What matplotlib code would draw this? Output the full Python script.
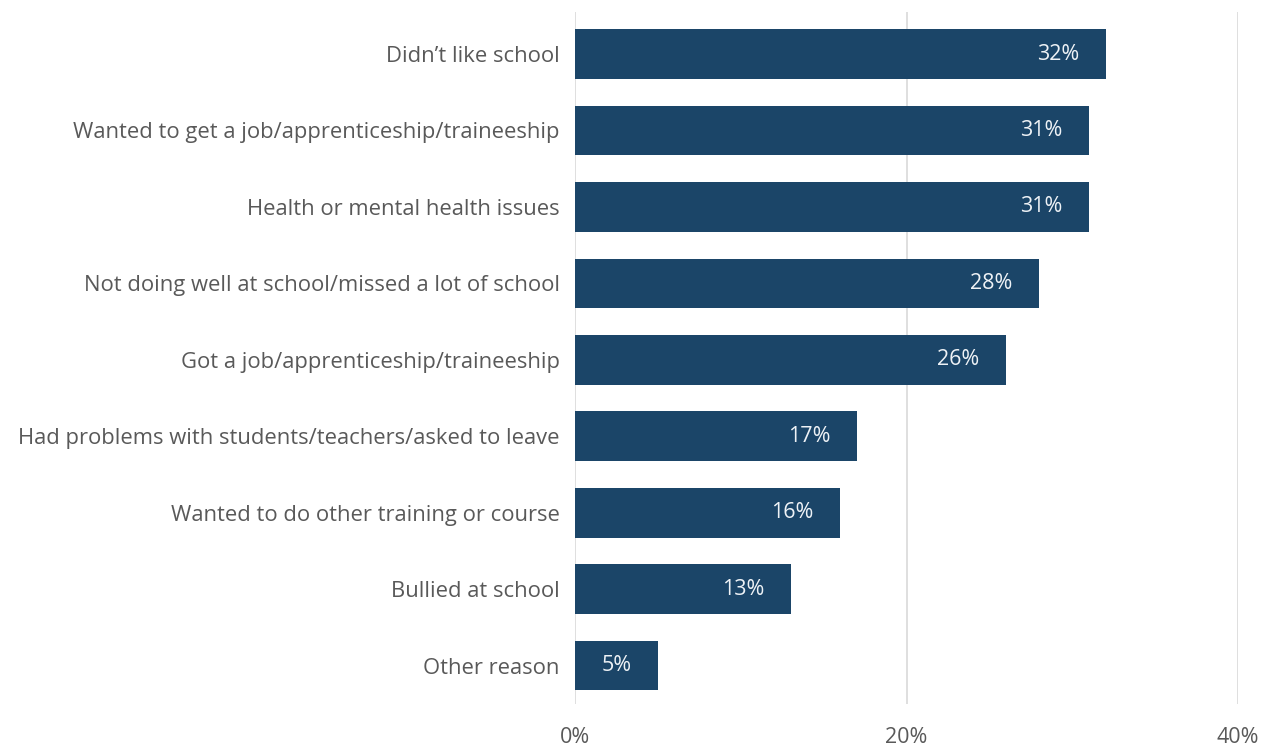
import matplotlib.pyplot as plt

plt.rcParams['font.family'] = ['Open Sans', 'DejaVu Sans']

reasons = [
    "Didn\u2019t like school",
    "Wanted to get a job/apprenticeship/traineeship",
    "Health or mental health issues",
    "Not doing well at school/missed a lot of school",
    "Got a job/apprenticeship/traineeship",
    "Had problems with students/teachers/asked to leave",
    "Wanted to do other training or course",
    "Bullied at school",
    "Other reason",
]
pct = [32, 31, 31, 28, 26, 17, 16, 13, 5]
xticks = [0, 20, 40]

fig = plt.figure(figsize=(12.62, 7.48), dpi=100)
ax = fig.add_axes([0.4556, 0.059, 0.5255, 0.925])

ypos = list(range(len(reasons)))
ax.barh(ypos, pct, height=0.65, color='#1b4568', zorder=3)

for y, v in zip(ypos, pct):
    ax.annotate(f"{v}%", xy=(v, y), xytext=(-19, 0), textcoords='offset points',
                ha='right', va='center', color='#eef2f6', fontsize=15.5, zorder=4)

ax.set_xlim(0, 40)
ax.set_ylim(8.5, -0.55)
ax.set_xticks(xticks)
ax.set_xticklabels([f"{t}%" for t in xticks])
ax.set_yticks(ypos)
ax.set_yticklabels(reasons)

for t in xticks:
    ax.axvline(t, color='#dcdcdc', lw=1.3, zorder=1)

for s in ax.spines.values():
    s.set_visible(False)
ax.tick_params(axis='both', length=0, labelcolor='#595959')
ax.tick_params(axis='y', labelsize=15.8, pad=11)
ax.tick_params(axis='x', labelsize=15.5, pad=17)

fig.savefig('out.png', dpi=100)
